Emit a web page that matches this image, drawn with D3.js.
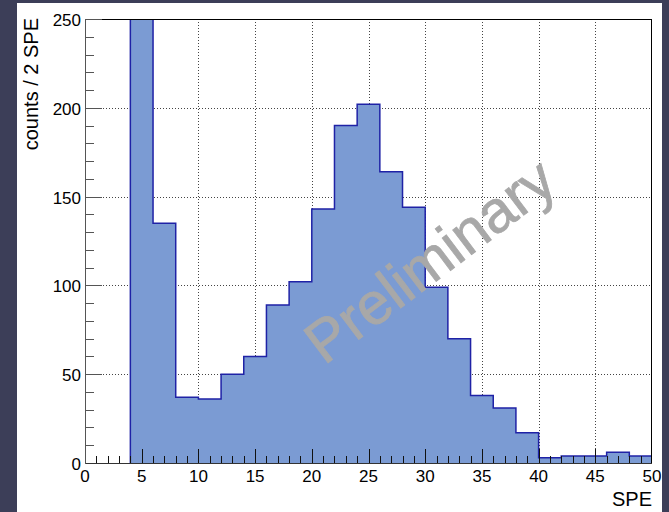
<!DOCTYPE html>
<html>
<head>
<meta charset="utf-8">
<script src="https://cdn.jsdelivr.net/npm/d3@7"></script>
<style>
  html, body { margin: 0; padding: 0; background: #3c3e58; }
  svg { display: block; }
  text { font-family: "Liberation Sans", Arial, Helvetica, sans-serif; }
</style>
</head>
<body>
<svg id="chart" width="669" height="512"></svg>
<script>
// Histogram: counts per 2-SPE bin
const binEdges = [4, 6, 8, 10, 12, 14, 16, 18, 20, 22, 24, 26, 28, 30, 32, 34, 36, 38, 40, 42, 44, 46, 48, 50];
const counts   = [290, 135, 37, 36, 50, 60, 89, 102, 143, 190, 202, 164, 144, 99, 70, 38, 31, 17, 3, 4, 4, 6, 4];
const xTicks = [0, 5, 10, 15, 20, 25, 30, 35, 40, 45, 50];
const yTicks = [0, 50, 100, 150, 200, 250];

const svg = d3.select("#chart");
const H = 512;

// white pad
svg.append("rect").attr("x", 17).attr("y", 3).attr("width", 645).attr("height", H - 3).attr("fill", "#ffffff");

const plot = { left: 85, right: 652, top: 19, bottom: 463 };
const x = d3.scaleLinear().domain([0, 50]).range([plot.left, plot.right]);
const y = d3.scaleLinear().domain([0, 250]).range([plot.bottom, plot.top]);

svg.append("clipPath").attr("id", "frame")
  .append("rect").attr("x", plot.left).attr("y", plot.top)
  .attr("width", plot.right - plot.left).attr("height", plot.bottom - plot.top);

// dotted grid
const grid = svg.append("g").attr("stroke", "#444").attr("stroke-width", 1).attr("stroke-dasharray", "1,2");
xTicks.filter(t => t > 0 && t < 50).forEach(t => {
  grid.append("line").attr("x1", Math.round(x(t)) + 0.5).attr("x2", Math.round(x(t)) + 0.5)
    .attr("y1", plot.top).attr("y2", plot.bottom);
});
yTicks.filter(t => t > 0 && t < 250).forEach(t => {
  grid.append("line").attr("y1", Math.round(y(t)) + 0.5).attr("y2", Math.round(y(t)) + 0.5)
    .attr("x1", plot.left).attr("x2", plot.right);
});

// histogram as one step shape: fill, then outline
const bins = counts.map((c, i) => ({ x0: binEdges[i], x1: binEdges[i + 1], c }));
const pts = [[x(bins[0].x0), y(0)]];
bins.forEach(d => { pts.push([x(d.x0), y(d.c)]); pts.push([x(d.x1), y(d.c)]); });
pts.push([x(bins[bins.length - 1].x1), y(0)]);

const hg = svg.append("g").attr("clip-path", "url(#frame)");
hg.append("path").attr("d", d3.line()(pts) + "Z")
  .attr("fill", "#7b9bd3").attr("stroke", "none");
hg.append("path").attr("d", d3.line()(pts))
  .attr("fill", "none").attr("stroke", "#1f22a6").attr("stroke-width", 1.5);

// watermark
svg.append("text")
  .attr("transform", "translate(442,277) rotate(-37)")
  .attr("text-anchor", "middle")
  .attr("font-size", 59)
  .attr("fill", "#a8a8a8")
  .attr("stroke", "#a8a8a8").attr("stroke-width", 0.8)
  .text("Preliminary");

// frame
svg.append("rect").attr("x", plot.left + 0.5).attr("y", plot.top + 0.5)
  .attr("width", plot.right - plot.left - 1).attr("height", plot.bottom - plot.top)
  .attr("fill", "none").attr("stroke", "#000").attr("stroke-width", 1);

// x axis ticks (pointing up) and labels
const xAxisG = svg.append("g").attr("stroke", "#111").attr("stroke-width", 1);
d3.range(1, 50, 1).forEach(t => {
  const major = t % 5 === 0;
  const px = Math.round(x(t)) + 0.5;
  xAxisG.append("line").attr("x1", px).attr("x2", px)
    .attr("y1", plot.bottom).attr("y2", plot.bottom - (major ? 14 : 7));
});
svg.append("line").attr("x1", plot.left).attr("x2", plot.right)
  .attr("y1", plot.bottom + 0.5).attr("y2", plot.bottom + 0.5).attr("stroke", "#333");
svg.append("g").selectAll("text").data(xTicks).enter().append("text")
  .attr("x", d => x(d)).attr("y", 482)
  .attr("text-anchor", "middle").attr("font-size", 17).attr("fill", "#000")
  .text(d => d);

// y axis ticks (pointing right) and labels
const yAxisG = svg.append("g").attr("stroke", "#555").attr("stroke-width", 1);
d3.range(10, 251, 10).forEach(t => {
  const major = t % 50 === 0;
  const py = Math.round(y(t)) + 0.5;
  yAxisG.append("line").attr("y1", py).attr("y2", py)
    .attr("x1", plot.left).attr("x2", plot.left + (major ? 17 : 9));
});
svg.append("line").attr("x1", plot.left + 0.5).attr("x2", plot.left + 0.5)
  .attr("y1", plot.top).attr("y2", plot.bottom + 1).attr("stroke", "#555");
svg.append("g").selectAll("text").data(yTicks).enter().append("text")
  .attr("x", 81).attr("y", d => y(d) + 7)
  .attr("text-anchor", "end").attr("font-size", 17).attr("fill", "#000")
  .text(d => d);

// axis titles
svg.append("text").attr("x", 652).attr("y", 506)
  .attr("text-anchor", "end").attr("font-size", 20).attr("fill", "#000")
  .text("SPE");
svg.append("text").attr("transform", "translate(38,18) rotate(-90)")
  .attr("text-anchor", "end").attr("font-size", 20).attr("fill", "#000")
  .text("counts / 2 SPE");
</script>
</body>
</html>
